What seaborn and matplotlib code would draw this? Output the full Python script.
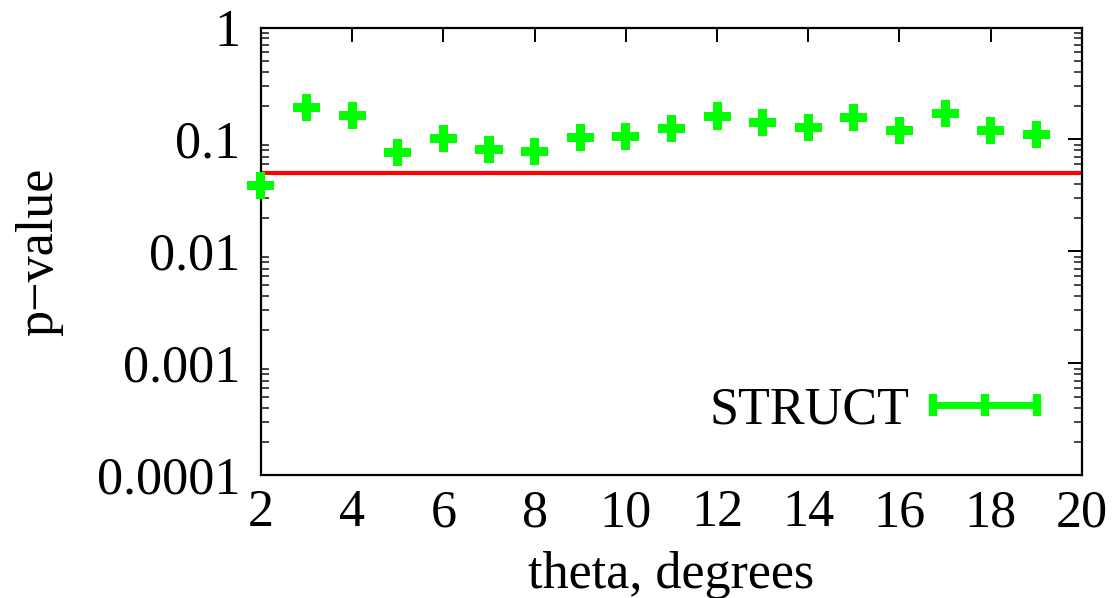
import numpy as np
import pandas as pd
import seaborn as sns
import matplotlib
matplotlib.use("Agg")
import matplotlib.pyplot as plt
from matplotlib.lines import Line2D
from matplotlib.ticker import FixedLocator, FixedFormatter, LogLocator, NullFormatter

theta = [2, 3, 4, 5, 6, 7, 8, 9, 10, 11, 12, 13, 14, 15, 16, 17, 18, 19]
pvalue = [0.0388, 0.194, 0.164, 0.076, 0.102, 0.082, 0.0787, 0.105, 0.107, 0.125,
          0.162, 0.143, 0.127, 0.156, 0.121, 0.171, 0.121, 0.1115]
threshold = 0.05
series_name = "STRUCT"
xticks = [2, 4, 6, 8, 10, 12, 14, 16, 18, 20]
yticks = [0.0001, 0.001, 0.01, 0.1, 1]
ytick_labels = ["0.0001", "0.001", "0.01", "0.1", "1"]

sns.set_theme(style="white")
plt.rcParams['font.family'] = ['Liberation Serif', 'DejaVu Serif']
plt.rcParams['text.color'] = 'black'
plt.rcParams['axes.labelcolor'] = 'black'

df = pd.DataFrame({"theta": theta, "p": pvalue})

fig = plt.figure(figsize=(11.2, 5.98), dpi=100)
ax = fig.add_axes([0.233, 0.205, 0.733, 0.749])

green = "#00ff00"
sns.scatterplot(data=df, x="theta", y="p", marker="P", s=380, color=green,
                edgecolor="none", linewidth=0, ax=ax, zorder=3, clip_on=False)
ax.axhline(threshold, color="#ff0000", lw=3.0, zorder=2)

ax.set_yscale("log")
ax.set_xlim(2, 20)
ax.set_ylim(1e-4, 1)

ax.xaxis.set_major_locator(FixedLocator(xticks))
ax.set_xticklabels([str(t) for t in xticks])
ax.yaxis.set_major_locator(FixedLocator(yticks))
ax.yaxis.set_major_formatter(FixedFormatter(ytick_labels))
ax.yaxis.set_minor_locator(LogLocator(base=10, subs=np.arange(2, 10)))
ax.yaxis.set_minor_formatter(NullFormatter())

for s in ax.spines.values():
    s.set_color("black")
    s.set_linewidth(1.6)

ax.tick_params(axis="both", which="major", direction="in", length=10, width=1.4,
               top=True, right=True, labelsize=37.5, colors="black", pad=8)
ax.tick_params(axis="y", which="minor", direction="in", length=6, width=1.2,
               left=True, right=True)
ax.tick_params(axis="y", which="major", pad=15)
ax.tick_params(axis="x", which="major", pad=10)

ax.set_xlabel("theta, degrees", fontsize=37.5, labelpad=10)
ax.set_ylabel("p\u2212value", fontsize=37.5, labelpad=24)

handle = Line2D([0], [0], color=green, lw=5, marker="|", markersize=16,
                markeredgewidth=6)
leg = ax.legend([handle], [series_name], loc="center right",
                bbox_to_anchor=(0.99, 0.145), frameon=False, fontsize=37.5,
                markerfirst=False, numpoints=3, handlelength=2.6,
                handletextpad=0.15, borderaxespad=0)

fig.savefig("out.png", dpi=100, facecolor="white")
